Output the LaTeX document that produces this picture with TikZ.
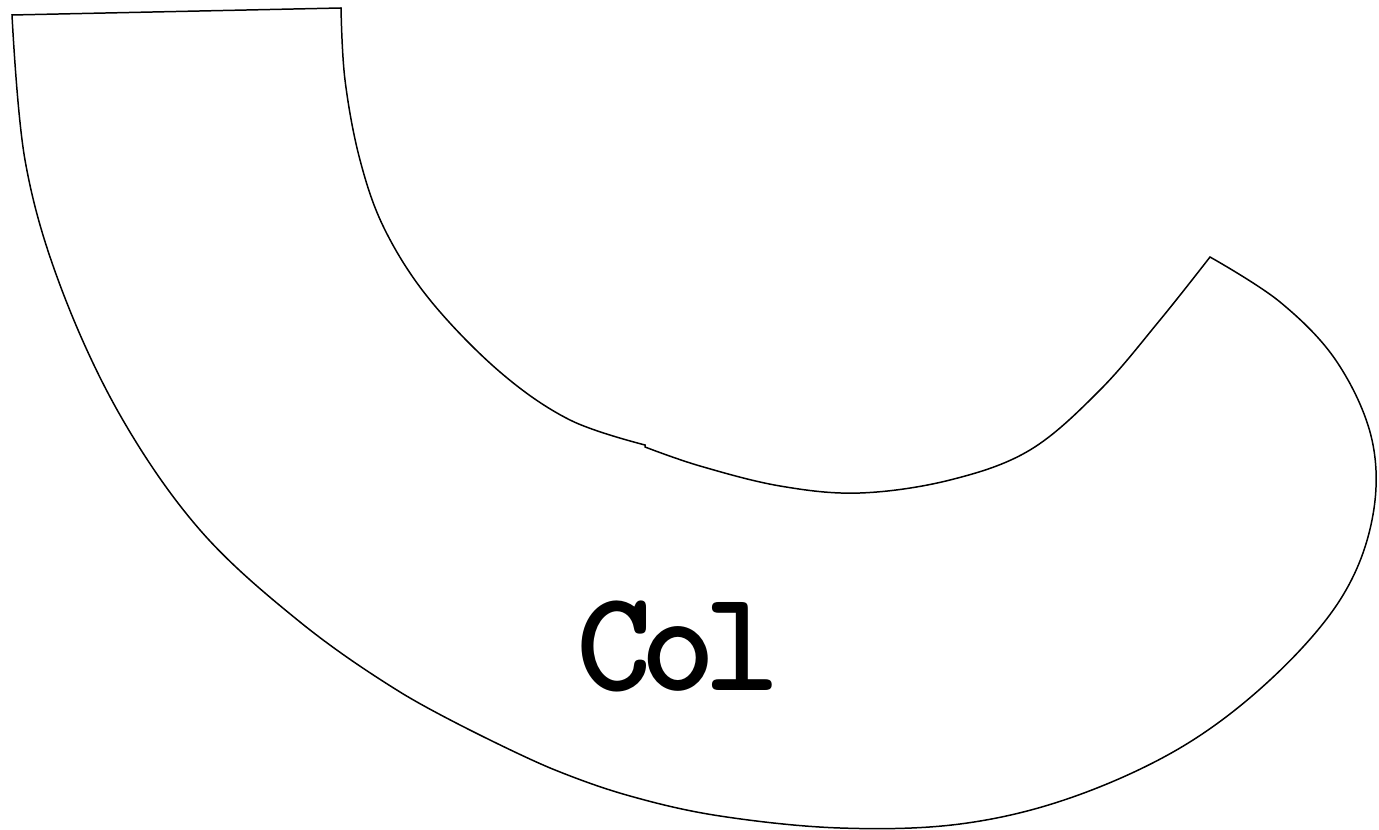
\documentclass[tikz,border=0pt]{standalone}
\usepackage{fontspec}
\usepackage{tikz}

\begin{document}
\begin{tikzpicture}[
    x=0.02cm, y=-0.02cm,
    outline/.style={draw, line width=0.85pt, line join=miter},
    bigword/.style={font=\ttfamily\bfseries\fontsize{82}{82}\selectfont, inner sep=0pt}
]
\useasboundingbox (0,0) rectangle (1379,830);

% the curved piece
\draw[outline] (12,15) -- (341,8)
    -- plot[smooth, tension=0.6] coordinates {(341,8) (345,80) (360,160) (385,230) (430,300) (500,372) (570,420) (645,445)}
    -- plot[smooth, tension=0.6] coordinates {(645,447) (700,466) (780,486) (860,493) (950,480) (1030,450) (1100,390) (1160,320) (1210,257)}
    -- plot[smooth, tension=0.6] coordinates {(1210,257) (1280,302) (1337,362) (1372,440) (1372,520) (1340,600) (1270,680) (1180,748) (1070,798) (960,824) (840,828) (720,816) (630,796) (555,770) (490,740)}
    -- plot[smooth, tension=0.6] coordinates {(490,740) (400,692) (300,622) (200,530) (120,415) (60,285) (25,160) (12,15)}
    -- cycle;

% label
\node[bigword] (word) at (678,646) {C\kern-0.08em o\kern-0.08em l};

\end{tikzpicture}
\end{document}
